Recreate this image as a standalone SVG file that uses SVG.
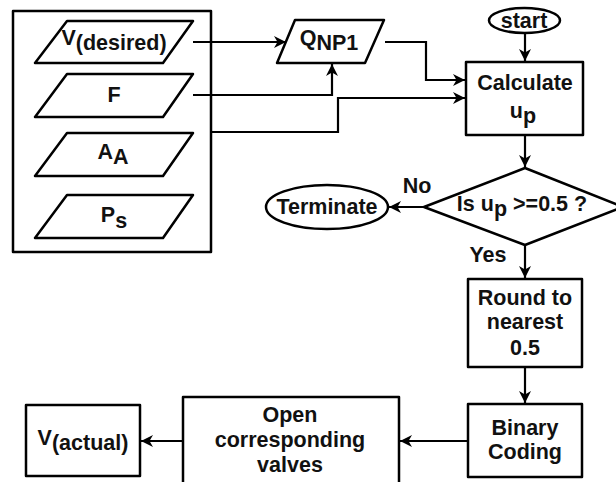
<svg xmlns="http://www.w3.org/2000/svg" width="616" height="482" viewBox="0 0 616 482">
<defs>
<marker id="arr" markerUnits="userSpaceOnUse" markerWidth="14" markerHeight="14" refX="12" refY="6" orient="auto">
<path d="M0,0 L12,6 L0,12 L3.5,6 z" fill="#000"/>
</marker>
<style>
.s{fill:#fff;stroke:#000;stroke-width:2.5;stroke-linejoin:round}
.c{fill:none;stroke:#000;stroke-width:2.2;marker-end:url(#arr)}
text{font-family:"Liberation Sans",Arial,sans-serif;font-weight:bold;font-size:21.5px;fill:#111;text-anchor:middle}
</style>
</defs>
<rect width="616" height="482" fill="#fff"/>
<g id="inputs">
<rect class="s" x="13" y="11" width="198" height="241"/>
</g>
<g id="vdesired">
<path class="s" d="M67,21 L193,21 L163,63 L35,63 Z"/>
<text x="114" y="45">V<tspan dy="5">(desired)</tspan></text>
</g>
<g id="f">
<path class="s" d="M67,74 L193,74 L163,117 L35,117 Z"/>
<text x="114" y="102">F</text>
</g>
<g id="aa">
<path class="s" d="M67,133 L193,133 L163,176 L35,176 Z"/>
<text x="113" y="159">A<tspan dy="5">A</tspan></text>
</g>
<g id="ps">
<path class="s" d="M67,195 L193,195 L163,238 L35,238 Z"/>
<text x="114" y="222">P<tspan dy="6">s</tspan></text>
</g>
<g id="qnp1">
<path class="s" d="M295,20 L384,20 L365,63 L277,63 Z"/>
<text x="329" y="45">Q<tspan dy="5">NP1</tspan></text>
</g>
<g id="start">
<ellipse class="s" cx="524.5" cy="20.5" rx="35.5" ry="12.5"/>
<text x="524" y="28">start</text>
</g>
<g id="calculate">
<rect class="s" x="466" y="62" width="117" height="73"/>
<text x="525" y="90">Calculate</text>
<text x="523" y="118">u<tspan dy="5">p</tspan></text>
</g>
<g id="decision">
<path class="s" d="M525,168 L623,207 L525,245 L424,207 Z"/>
<text x="522" y="211">Is u<tspan dy="5">p</tspan><tspan dy="-5"> &gt;=0.5 ?</tspan></text>
</g>
<g id="terminate">
<ellipse class="s" cx="327" cy="207" rx="61" ry="22"/>
<text x="327" y="214">Terminate</text>
</g>
<g id="round">
<rect class="s" x="468" y="279" width="114" height="88"/>
<text x="525" y="305">Round to</text>
<text x="525" y="329">nearest</text>
<text x="525" y="355">0.5</text>
</g>
<g id="binary">
<rect class="s" x="468" y="404" width="114" height="73"/>
<text x="525" y="435">Binary</text>
<text x="525" y="459">Coding</text>
</g>
<g id="open">
<rect class="s" x="183" y="397" width="216" height="90"/>
<text x="290" y="422">Open</text>
<text x="290" y="447">corresponding</text>
<text x="290" y="472">valves</text>
</g>
<g id="vactual">
<rect class="s" x="26" y="405" width="114" height="71"/>
<text x="83" y="445">V<tspan dy="5">(actual)</tspan></text>
</g>
<g id="labels">
<text x="417" y="193">No</text>
<text x="488" y="262">Yes</text>
</g>
<g id="connectors">
<path class="c" d="M193,42 L286,42"/>
<path class="c" d="M193,95 L332,95 L332,64"/>
<path class="c" d="M211,132 L338,132 L338,98 L465,98"/>
<path class="c" d="M385,42 L426,42 L426,80 L465,80"/>
<path class="c" d="M525,33 L525,61"/>
<path class="c" d="M525,135 L525,167"/>
<path class="c" d="M424,207 L389,207"/>
<path class="c" d="M525,245 L525,278"/>
<path class="c" d="M525,367 L525,403"/>
<path class="c" d="M468,441 L400,441"/>
<path class="c" d="M183,441 L141,441"/>
</g>
</svg>
